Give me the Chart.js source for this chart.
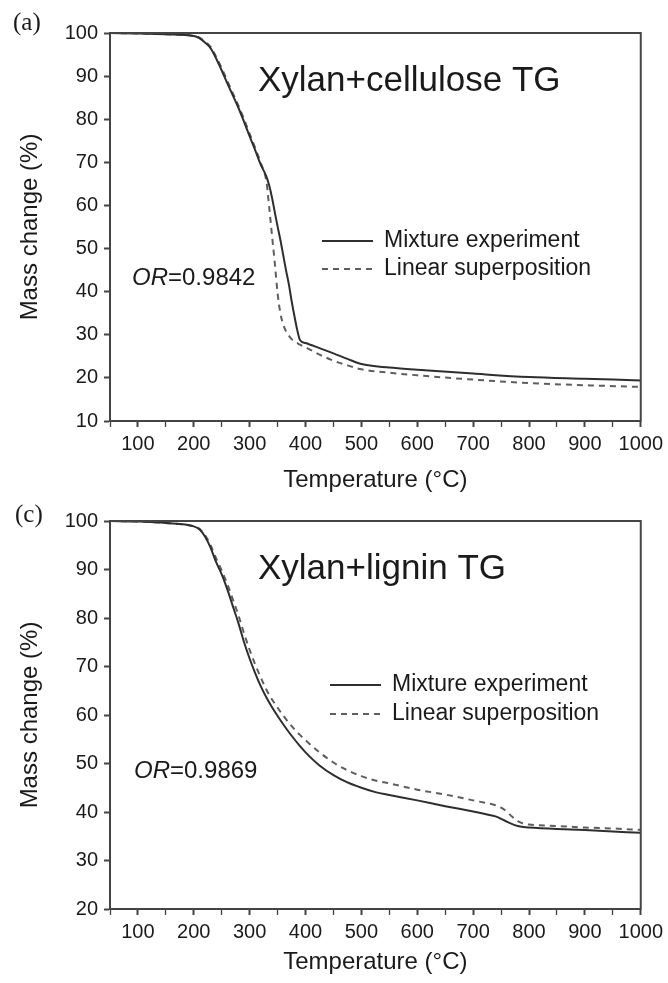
<!DOCTYPE html>
<html>
<head>
<meta charset="utf-8">
<script src="https://cdn.jsdelivr.net/npm/chart.js@4.4.1/dist/chart.umd.min.js"></script>
<style>
  body { margin: 0; background: #fff; }
  canvas { position: absolute; left: 0; }
</style>
</head>
<body>
<canvas id="tgA" width="668" height="500" style="top:0"></canvas>
<canvas id="tgC" width="668" height="493" style="top:490px"></canvas>
<script>
// (a) xylan + cellulose
const tempA = [50, 100, 150, 200, 210, 220, 230, 240, 250, 260, 270, 280, 290, 300, 310, 320, 330, 335, 340, 345,
  350, 355, 360, 365, 370, 375, 380, 385, 390, 400, 425, 450, 475, 500, 550, 600, 700, 800, 900, 1000];
const mixA = [100, 99.9, 99.7, 99.3, 98.8, 97.8, 96.5, 94.1, 91.3, 88.3, 85.5, 82.6, 79.4, 76.0, 72.8, 69.4, 66.7, 64.6, 61.8, 58.4,
  55.1, 52.0, 48.5, 45.0, 41.8, 37.9, 34.4, 31.2, 28.8, 28.1, 26.9, 25.7, 24.4, 23.2, 22.4, 21.9, 21.0, 20.2, 19.8, 19.4];
const linA = [100, 99.9, 99.7, 99.3, 98.9, 98.0, 96.8, 94.5, 91.8, 88.9, 86.0, 83.1, 80.0, 76.6, 73.3, 69.8, 65.5, 59.5, 53.0, 46.6,
  39.6, 35.0, 32.4, 30.8, 29.8, 29.0, 28.5, 28.1, 27.7, 27.1, 25.4, 24.0, 22.9, 22.0, 21.2, 20.6, 19.6, 18.8, 18.3, 17.9];

// (c) xylan + lignin
const tempC = [50, 100, 150, 200, 210, 220, 230, 240, 250, 260, 270, 280, 290, 300, 310, 320, 330, 340, 350, 360, 370, 380, 390,
  400, 425, 450, 475, 500, 525, 550, 600, 650, 700, 725, 740, 750, 760, 770, 780, 790, 800, 850, 900, 950, 1000];
const mixC = [100, 99.9, 99.6, 98.9, 98.3, 96.8, 94.5, 91.5, 89.0, 85.9, 82.4, 78.9, 75.0, 71.6, 68.6, 65.9, 63.6, 61.6, 59.8, 58.1, 56.5, 55.0, 53.6,
  52.3, 49.6, 47.6, 46.1, 45.0, 44.1, 43.5, 42.4, 41.2, 40.1, 39.5, 39.1, 38.6, 38.0, 37.5, 37.1, 36.9, 36.8, 36.5, 36.3, 36.0, 35.7];
const linC = [100, 99.9, 99.6, 98.9, 98.4, 97.1, 95.0, 92.3, 89.8, 87.0, 83.8, 80.5, 76.8, 73.4, 70.4, 67.7, 65.2, 63.2, 61.5, 59.9, 58.4, 57.1, 55.9,
  54.8, 52.3, 50.2, 48.6, 47.4, 46.5, 45.9, 44.6, 43.6, 42.4, 41.8, 41.4, 40.9, 40.1, 39.0, 38.1, 37.6, 37.4, 37.1, 36.8, 36.6, 36.3];

const seriesNames = ['Mixture experiment', 'Linear superposition'];

const SANS = '"Liberation Sans", Arial, sans-serif';
const INK = '#1a1a1a';
const AXIS = '#444';

const points = (xs, ys) => xs.map((x, i) => ({ x: x, y: ys[i] }));

// frame, panel letter, title, OR value and legend drawn inside the plot
const notes = {
  id: 'notes',
  afterDatasetsDraw(chart, args, o) {
    const { ctx, chartArea: a } = chart;
    ctx.save();
    ctx.strokeStyle = AXIS;
    ctx.lineWidth = 2;
    ctx.strokeRect(a.left, a.top, a.right - a.left, a.bottom - a.top);

    ctx.fillStyle = INK;
    ctx.textBaseline = 'middle';
    ctx.textAlign = 'left';

    ctx.font = '25px "Liberation Serif", "Times New Roman", serif';
    ctx.fillText(o.panel, o.panelX, o.panelY);

    ctx.font = '35px ' + SANS;
    ctx.fillText(o.title, o.titleX, o.titleY);

    ctx.font = 'italic 24px ' + SANS;
    ctx.fillText('OR', o.orX, o.orY);
    const w = ctx.measureText('OR').width;
    ctx.font = '24px ' + SANS;
    ctx.fillText('=' + o.or, o.orX + w, o.orY);

    chart.data.datasets.forEach((ds, i) => {
      const y = o.legY + i * o.legGap;
      ctx.beginPath();
      ctx.setLineDash(ds.borderDash || []);
      ctx.strokeStyle = ds.borderColor;
      ctx.lineWidth = ds.borderWidth;
      ctx.moveTo(o.legX, y);
      ctx.lineTo(o.legX + 51, y);
      ctx.stroke();
      ctx.setLineDash([]);
      ctx.font = '23px ' + SANS;
      ctx.fillText(ds.label, o.legX + 62, y);
    });
    ctx.restore();
  }
};

function makeChart(id, temps, mix, lin, yMin, xAxisH, note) {
  return new Chart(document.getElementById(id), {
    type: 'line',
    data: {
      datasets: [{
        label: seriesNames[0],
        data: points(temps, mix),
        borderColor: '#2e2e2e',
        borderWidth: 2,
        pointRadius: 0,
        cubicInterpolationMode: 'monotone'
      }, {
        label: seriesNames[1],
        data: points(temps, lin),
        borderColor: '#5e5e5e',
        borderWidth: 2,
        borderDash: [6, 5],
        pointRadius: 0,
        cubicInterpolationMode: 'monotone'
      }]
    },
    options: {
      responsive: false,
      animation: false,
      devicePixelRatio: 1,
      layout: { padding: { top: note.top, right: 27, left: 0, bottom: 0 } },
      plugins: {
        legend: { display: false },
        tooltip: { enabled: false },
        notes: note
      },
      scales: {
        x: {
          type: 'linear',
          min: 50,
          max: 1000,
          afterFit: (s) => { s.height = xAxisH; },
          grid: {
            drawOnChartArea: false, tickLength: 6, tickColor: AXIS,
            tickWidth: (c) => (c.tick && c.tick.value % 100 === 0 ? 2 : 1.3)
          },
          border: { color: AXIS, width: 2 },
          ticks: {
            stepSize: 50,
            autoSkip: false,
            maxRotation: 0,
            padding: 5,
            color: INK,
            font: { family: SANS, size: 20 },
            callback: (v) => (v % 100 === 0 ? v : '')
          },
          title: {
            display: true,
            text: 'Temperature (°C)',
            color: INK,
            font: { family: SANS, size: 24, lineHeight: 1.2 },
            padding: { top: 0, bottom: note.xTitlePad }
          }
        },
        y: {
          min: yMin,
          max: 100,
          afterFit: (s) => { s.width = 110; },
          grid: { drawOnChartArea: false, tickLength: 6, tickColor: AXIS, tickWidth: 2 },
          border: { color: AXIS, width: 2 },
          ticks: {
            stepSize: 10,
            padding: 6,
            color: INK,
            font: { family: SANS, size: 20 }
          },
          title: {
            display: true,
            text: 'Mass change (%)',
            color: INK,
            font: { family: SANS, size: 24, lineHeight: 1.2 },
            padding: { top: 16, bottom: 0 }
          }
        }
      }
    },
    plugins: [notes]
  });
}

makeChart('tgA', tempA, mixA, linA, 10, 79, {
  top: 33, xTitlePad: 5,
  panel: '(a)', panelX: 13, panelY: 23,
  title: 'Xylan+cellulose TG', titleX: 258, titleY: 81,
  or: '0.9842', orX: 132, orY: 278,
  legX: 322, legY: 241, legGap: 28
});

makeChart('tgC', tempC, mixC, linC, 20, 74, {
  top: 31, xTitlePad: 6,
  panel: '(c)', panelX: 15, panelY: 25,
  title: 'Xylan+lignin TG', titleX: 258, titleY: 79,
  or: '0.9869', orX: 134, orY: 281,
  legX: 330, legY: 195, legGap: 29
});
</script>
</body>
</html>
